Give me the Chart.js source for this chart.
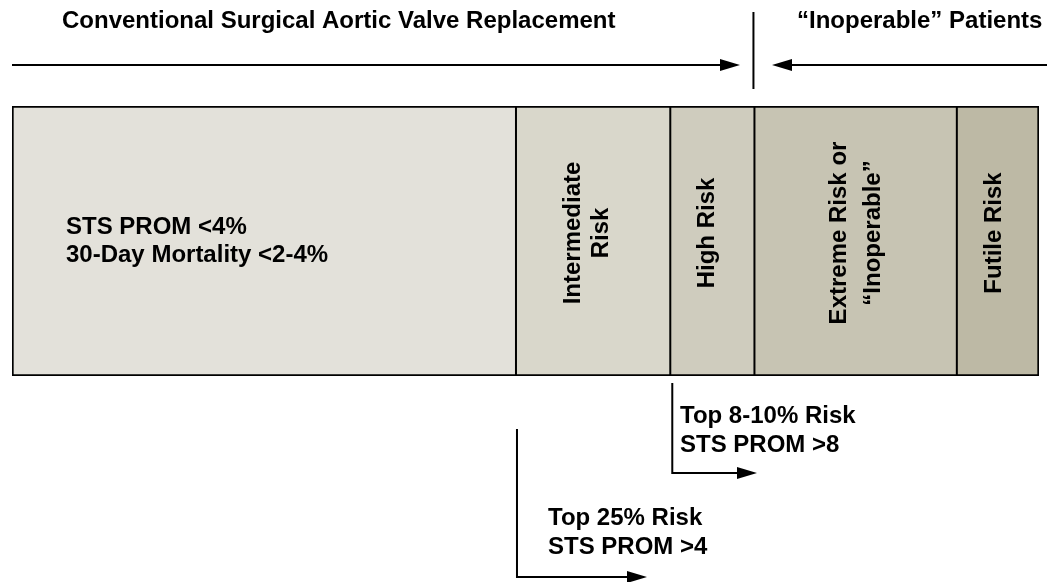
<!DOCTYPE html>
<html>
<head>
<meta charset="utf-8">
<script src="https://cdn.jsdelivr.net/npm/chart.js@4"></script>
<style>
html,body{margin:0;padding:0;background:#ffffff;}
#wrap{width:1047px;height:582px;}
</style>
</head>
<body>
<div id="wrap"><canvas id="c" width="1047" height="582"></canvas></div>
<script>
// ---- data ----
const categories = ['Risk spectrum'];
const segmentNames = ['Low Risk', 'Intermediate Risk', 'High Risk', 'Extreme Risk', 'Futile Risk'];
const segmentWidths = [503, 154, 84, 202, 82];
const segmentLabels = [
  ['STS PROM <4%', '30-Day Mortality <2-4%'],
  ['Intermediate', 'Risk'],
  ['High Risk'],
  ['Extreme Risk or', '\u201CInoperable\u201D'],
  ['Futile Risk']
];
const segmentColors = ['#e3e1da', '#d9d7cb', '#cfccbe', '#c7c4b3', '#bdb9a5'];
const headerLeft = 'Conventional Surgical Aortic Valve Replacement';
const headerRight = '\u201CInoperable\u201D Patients';
const noteHigh = ['Top 8-10% Risk', 'STS PROM >8'];
const noteInter = ['Top 25% Risk', 'STS PROM >4'];

const FONT = 'bold 24px "Liberation Sans", Arial, Helvetica, sans-serif';
const LABEL_SHIFT = [0, 0, 1, 6, 2];

function arrowHead(ctx, x, y, dir) {
  ctx.beginPath();
  ctx.moveTo(x, y);
  ctx.lineTo(x - dir * 20, y - 6);
  ctx.lineTo(x - dir * 20, y + 6);
  ctx.closePath();
  ctx.fill();
}

const decor = {
  id: 'decor',
  afterDatasetsDraw(chart) {
    const ctx = chart.ctx;
    const els = chart.data.datasets.map((d, i) => chart.getDatasetMeta(i).data[0]);
    const top = els[0].y - els[0].height / 2;
    const bottom = els[0].y + els[0].height / 2;
    const mid = (top + bottom) / 2;
    ctx.save();
    ctx.fillStyle = '#000';
    ctx.strokeStyle = '#000';
    ctx.lineWidth = 2;
    ctx.font = FONT;
    ctx.textBaseline = 'alphabetic';

    // internal dividers (2px black)
    for (let i = 0; i < els.length - 1; i++) {
      const x = els[i].x;
      ctx.beginPath();
      ctx.moveTo(x, top); ctx.lineTo(x, bottom); ctx.stroke();
    }

    // segment labels
    els.forEach((el, i) => {
      const left = el.base, right = el.x;
      const lines = segmentLabels[i];
      if (i === 0) {
        ctx.textAlign = 'left';
        ctx.fillText(lines[0], left + 54, mid - 7);
        ctx.fillText(lines[1], left + 54, mid + 21);
      } else {
        const cx = (left + right) / 2 + LABEL_SHIFT[i];
        const lh = i === 3 ? 34 : 28;
        ctx.save();
        ctx.translate(cx, mid - 8);
        ctx.rotate(-Math.PI / 2);
        ctx.textAlign = 'center';
        const n = lines.length;
        lines.forEach((t, k) => {
          const off = (k - (n - 1) / 2) * lh;
          ctx.fillText(t, 0, off + 1);
        });
        ctx.restore();
      }
    });

    // headers
    ctx.textAlign = 'left';
    ctx.fillText(headerLeft, 62, 28);
    ctx.fillText(headerRight, 797, 28);

    // top arrows and divider
    const divX = els[2].x - 1;
    const ay = 65;
    ctx.beginPath();
    ctx.moveTo(12, ay); ctx.lineTo(724, ay); ctx.stroke();
    arrowHead(ctx, 740, ay, 1);
    ctx.beginPath();
    ctx.moveTo(1047, ay); ctx.lineTo(788, ay); ctx.stroke();
    arrowHead(ctx, 772, ay, -1);
    ctx.beginPath();
    ctx.moveTo(divX, 12); ctx.lineTo(divX, 89); ctx.stroke();

    // bottom annotation: high risk
    const hx = els[1].x + 2;
    ctx.beginPath();
    ctx.moveTo(hx, 383); ctx.lineTo(hx, 473); ctx.lineTo(742, 473); ctx.stroke();
    arrowHead(ctx, 757, 473, 1);
    ctx.fillText(noteHigh[0], 680, 423);
    ctx.fillText(noteHigh[1], 680, 452);

    // bottom annotation: intermediate risk
    const ix = els[0].x + 1;
    ctx.beginPath();
    ctx.moveTo(ix, 429); ctx.lineTo(ix, 577); ctx.lineTo(632, 577); ctx.stroke();
    arrowHead(ctx, 647, 577, 1);
    ctx.fillText(noteInter[0], 548, 525);
    ctx.fillText(noteInter[1], 548, 554);

    ctx.restore();
  }
};

const datasets = segmentWidths.map((v, i) => ({
  label: segmentNames[i],
  data: [v],
  backgroundColor: segmentColors[i],
  borderColor: '#000000',
  borderWidth: { top: 2, bottom: 2, left: i === 0 ? 2 : 0, right: i === segmentWidths.length - 1 ? 2 : 0 },
  borderSkipped: false,
  barPercentage: 1,
  categoryPercentage: 1
}));

const total = segmentWidths.reduce((a, b) => a + b, 0);

new Chart(document.getElementById('c'), {
  type: 'bar',
  data: { labels: categories, datasets },
  options: {
    indexAxis: 'y',
    responsive: false,
    animation: false,
    devicePixelRatio: 1,
    layout: { padding: { left: 12, right: 8, top: 106, bottom: 206 } },
    scales: {
      x: { stacked: true, min: 0, max: total, display: false },
      y: { stacked: true, display: false }
    },
    plugins: { legend: { display: false }, tooltip: { enabled: false }, title: { display: false } }
  },
  plugins: [decor]
});
</script>
</body>
</html>
